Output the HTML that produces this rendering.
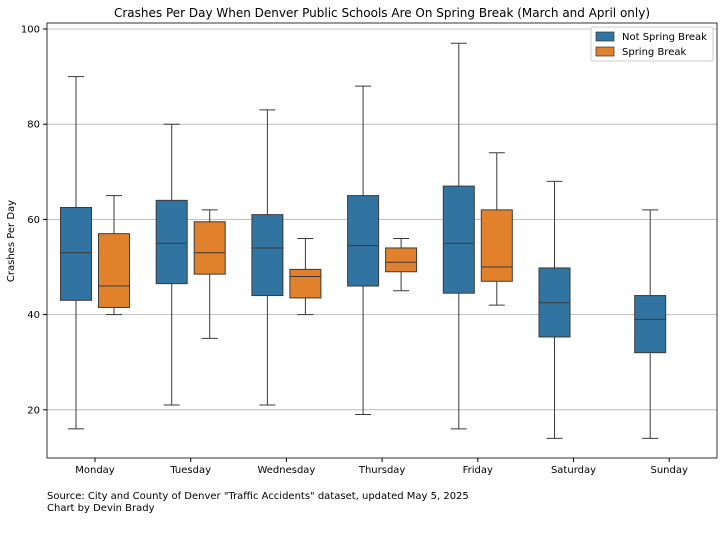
<!DOCTYPE html>
<html><head><meta charset="utf-8"><style>
body{margin:0;background:#fff;font-family:"DejaVu Sans",sans-serif;}
svg text{font-family:"DejaVu Sans",sans-serif;}
</style></head><body>
<svg id="chart" width="723" height="531" viewBox="0 0 723 531" xmlns="http://www.w3.org/2000/svg">
<rect width="723" height="531" fill="#fff"/>
<text x="382" y="17" text-anchor="middle" font-size="12">Crashes Per Day When Denver Public Schools Are On Spring Break (March and April only)</text>
<g id="grid"></g>
<g id="boxes"></g>
<rect x="47" y="23" width="670" height="435" fill="none" stroke="#000" stroke-width="0.8"/>
<g id="axes"></g>
<text transform="translate(14,241) rotate(-90)" text-anchor="middle" font-size="10">Crashes Per Day</text>
<g>
<rect x="591" y="27" width="122" height="34" fill="#fff" stroke="#ccc" rx="2"/>
<rect x="596" y="32" width="18" height="9" fill="#3274a1" stroke="#333" stroke-width="0.7"/>
<text x="622" y="40" font-size="10">Not Spring Break</text>
<rect x="596" y="47" width="18" height="9" fill="#e1812c" stroke="#333" stroke-width="0.7"/>
<text x="622" y="55" font-size="10">Spring Break</text>
</g>
<text x="47" y="499" font-size="10">Source: City and County of Denver "Traffic Accidents" dataset, updated May 5, 2025</text>
<text x="47" y="511" font-size="10">Chart by Devin Brady</text>
</svg>
<script>
const categories=["Monday","Tuesday","Wednesday","Thursday","Friday","Saturday","Sunday"];
const yTicks=[20,40,60,80,100];
// [whiskerLow, q1, median, q3, whiskerHigh]
const notSpring=[[16,43,53,62.5,90],[21,46.5,55,64,80],[21,44,54,61,83],[19,46,54.5,65,88],[16,44.5,55,67,97],[14,35.3,42.5,49.8,68],[14,32,39,44,62]];
const spring=[[40,41.5,46,57,65],[35,48.5,53,59.5,62],[40,43.5,48,49.5,56],[45,49,51,54,56],[42,47,50,62,74],null,null];
const NS="http://www.w3.org/2000/svg";
const y=v=>29+(100-v)*4.76;
const xc=i=>95+i*95.7;
function mk(t,a,p){const e=document.createElementNS(NS,t);for(const k in a)e.setAttribute(k,a[k]);p.appendChild(e);return e;}
const grid=document.getElementById('grid'),axes=document.getElementById('axes'),boxes=document.getElementById('boxes');
yTicks.forEach(t=>{
 const g=mk('line',{x1:47,x2:717,y1:y(t),y2:y(t),stroke:'#b0b0b0','stroke-width':0.8},grid);
 
 
 mk('line',{x1:43,x2:47,y1:y(t),y2:y(t),stroke:'#000'},axes);
 const tx=mk('text',{x:40,y:y(t)+3.5,'text-anchor':'end','font-size':10},axes);tx.textContent=t;
 
 
});
categories.forEach((c,i)=>{
 mk('line',{x1:xc(i),x2:xc(i),y1:458,y2:462,stroke:'#000'},axes);
 const tx=mk('text',{x:xc(i),y:473,'text-anchor':'middle','font-size':10},axes);tx.textContent=c;
 
 
});
function box(d,cx,col,name){
 const g=mk('g',{},boxes);
 
 
 const w=31,s='#3a3a3a';
 mk('line',{x1:cx,x2:cx,y1:y(d[0]),y2:y(d[1]),stroke:s},g);
 mk('line',{x1:cx,x2:cx,y1:y(d[3]),y2:y(d[4]),stroke:s},g);
 mk('line',{x1:cx-8,x2:cx+8,y1:y(d[0]),y2:y(d[0]),stroke:s},g);
 mk('line',{x1:cx-8,x2:cx+8,y1:y(d[4]),y2:y(d[4]),stroke:s},g);
 mk('rect',{x:cx-w/2,y:y(d[3]),width:w,height:y(d[1])-y(d[3]),fill:col,stroke:s},g);
 mk('line',{x1:cx-w/2,x2:cx+w/2,y1:y(d[2]),y2:y(d[2]),stroke:s},g);
}
categories.forEach((c,i)=>{
 box(notSpring[i],xc(i)-19,'#3274a1','box-not-spring-'+c.toLowerCase());
 if(spring[i])box(spring[i],xc(i)+19,'#e1812c','box-spring-'+c.toLowerCase());
});
</script>
</body></html>
